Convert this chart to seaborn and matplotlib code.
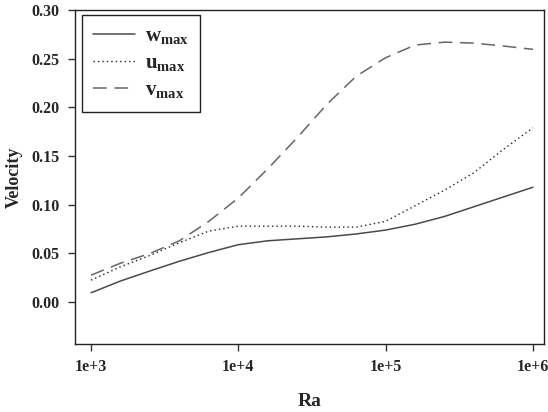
import numpy as np
import pandas as pd
import matplotlib
matplotlib.use('Agg')
import matplotlib.pyplot as plt
import seaborn as sns

# Values
ra = [1000, 1585, 2512, 3981, 6310, 10000, 15850, 25120, 39810, 63100,
      100000, 158500, 251200, 398100, 631000, 1000000]
w_max = [0.0096, 0.0217, 0.032, 0.042, 0.051, 0.059, 0.063, 0.065, 0.067, 0.070,
         0.074, 0.080, 0.088, 0.098, 0.108, 0.118]
u_max = [0.0226, 0.0363, 0.048, 0.061, 0.073, 0.078, 0.078, 0.078, 0.077, 0.077,
         0.083, 0.099, 0.115, 0.133, 0.157, 0.179]
v_max = [0.0277, 0.040, 0.050, 0.063, 0.083, 0.107, 0.137, 0.169, 0.203, 0.232,
         0.251, 0.264, 0.267, 0.266, 0.263, 0.2596]
xticks = [1e3, 1e4, 1e5, 1e6]
xticklabels = ['1e+3', '1e+4', '1e+5', '1e+6']
yticks = [0.00, 0.05, 0.10, 0.15, 0.20, 0.25, 0.30]

sns.set_theme(style='white')
plt.rcParams['font.family'] = ['Liberation Serif', 'DejaVu Serif']
plt.rcParams['font.weight'] = 'bold'
plt.rcParams['mathtext.fontset'] = 'custom'
plt.rcParams['mathtext.rm'] = 'Liberation Serif'
plt.rcParams['mathtext.bf'] = 'Liberation Serif:bold'

df = pd.DataFrame({'Ra': ra, 'w': w_max, 'u': u_max, 'v': v_max})

fig = plt.figure(figsize=(5.48, 4.12), dpi=100)
ax = fig.add_axes([75 / 548, 1 - 344 / 412, 469 / 548, 334 / 412])

sns.lineplot(data=df, x='Ra', y='w', ax=ax, color='#4a4a4a', lw=1.1,
             label=r'$\mathbf{w}_{\mathbf{max}}$')
sns.lineplot(data=df, x='Ra', y='u', ax=ax, color='#222222', lw=1.0,
             linestyle=(0, (1, 2.2)), label=r'$\mathbf{u}_{\mathbf{max}}$')
sns.lineplot(data=df, x='Ra', y='v', ax=ax, color='#666666', lw=1.1,
             linestyle=(0, (9, 5)), label=r'$\mathbf{v}_{\mathbf{max}}$')

ax.set_xscale('log')
ax.set_xlim(10 ** 2.891, 10 ** 6.075)
ax.set_ylim(-0.043, 0.300)
ax.set_xticks(xticks)
ax.set_xticklabels(xticklabels)
ax.minorticks_off()
ax.set_yticks(yticks)
ax.set_yticklabels(['%.2f' % t for t in yticks])

ax.tick_params(axis='both', which='major', direction='out', length=5, width=1,
               color='#333333', labelsize=11.5, pad=6, left=True, bottom=True)
for lab in ax.get_xticklabels() + ax.get_yticklabels():
    lab.set_fontweight('bold')

for sp in ax.spines.values():
    sp.set_visible(True)
    sp.set_color('#222222')
    sp.set_linewidth(1.0)

ax.set_xlabel('Ra', fontsize=14, fontweight='bold', labelpad=13)
ax.set_ylabel('Velocity', fontsize=13, fontweight='bold', labelpad=6)

leg = ax.legend(loc='upper left', bbox_to_anchor=(0.015, 0.985), borderaxespad=0,
                frameon=True, fancybox=False, shadow=False, fontsize=15,
                handlelength=2.0, handletextpad=0.45, labelspacing=0.3,
                borderpad=0.55)
leg.get_frame().set_edgecolor('#222222')
leg.get_frame().set_linewidth(1.0)
leg.get_frame().set_alpha(1)

fig.savefig('out.png', dpi=100)
